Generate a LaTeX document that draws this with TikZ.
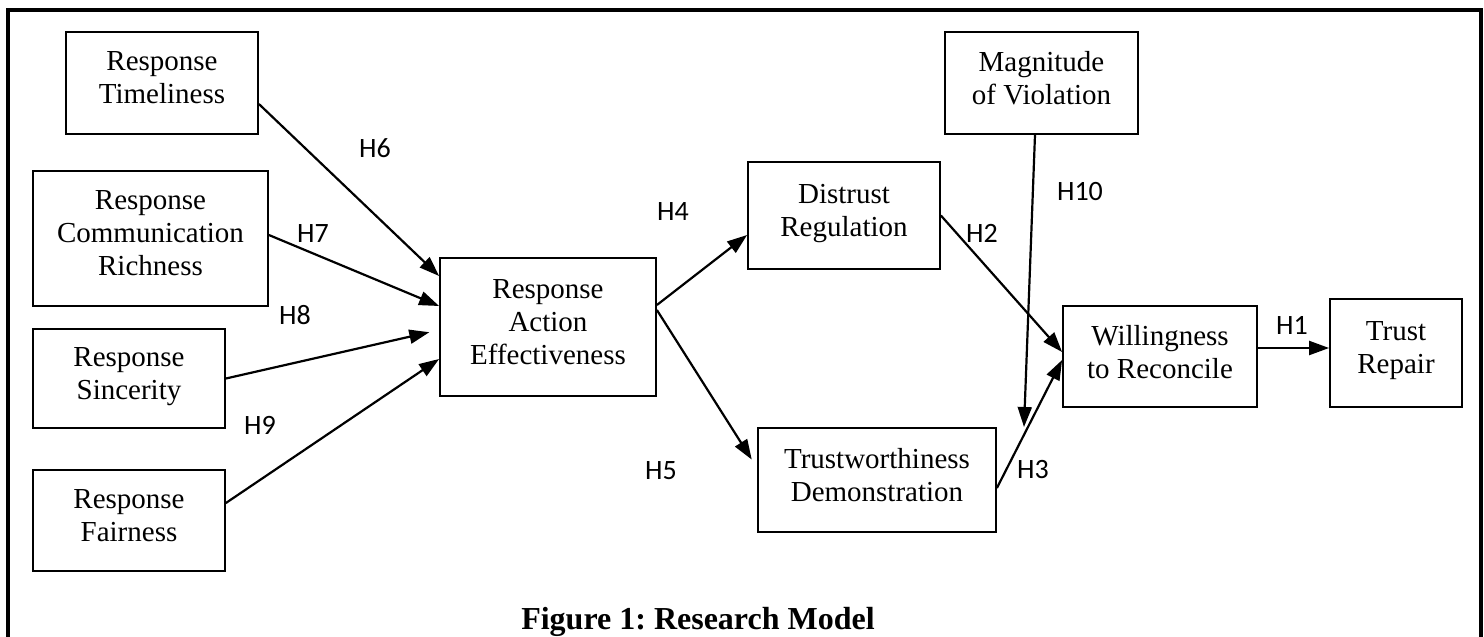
\documentclass[tikz,border=0pt]{standalone}
\usepackage{fontspec}
\setmainfont{Liberation Serif}
\newfontfamily\hypfont{Carlito}
\usetikzlibrary{arrows.meta}
\frenchspacing

\begin{document}
\begin{tikzpicture}[x=0.5pt, y=-0.5pt,
  construct/.style={draw, line width=0.9pt, align=center, inner sep=0pt,
    font=\fontsize{14.5}{16.5}\selectfont, text depth=5pt},
  link/.style={-{Triangle[length=10pt,width=7pt]}, line width=1.1pt},
  hyp/.style={font=\hypfont\fontsize{14}{16}\selectfont, inner sep=0pt}]
\useasboundingbox (0,0) rectangle (1484,637);
% frame, bottom edge runs off the page
\draw[line width=1.8pt] (8,637) -- (8,10) -- (1481,10) -- (1481,637);

% antecedents
\node[construct, minimum width=96pt, minimum height=51pt] (timely) at (162,83) {Response\\Timeliness};
\node[construct, minimum width=117.5pt, minimum height=67.5pt] (rich) at (150.5,238.5) {Response\\Communication\\Richness};
\node[construct, minimum width=96pt, minimum height=49.5pt] (sincere) at (129,378.5) {Response\\Sincerity};
\node[construct, minimum width=96pt, minimum height=50.5pt] (fair) at (129,520.5) {Response\\Fairness};

% mediators and outcomes
\node[construct, minimum width=108pt, minimum height=69pt] (action) at (548,327) {Response\\Action\\Effectiveness};
\node[construct, minimum width=96pt, minimum height=53.5pt] (distrust) at (844,215.5) {Distrust\\Regulation};
\node[construct, minimum width=119pt, minimum height=52pt] (worthy) at (877,480) {Trustworthiness\\Demonstration};
\node[construct, minimum width=96.5pt, minimum height=51pt] (magnitude) at (1041.5,83) {Magnitude\\of Violation};
\node[construct, minimum width=97pt, minimum height=50.5pt] (reconcile) at (1160,356.5) {Willingness\\to Reconcile};
\node[construct, minimum width=66pt, minimum height=54pt] (repair) at (1396,353) {Trust\\Repair};

\coordinate (modtip) at (1024,427);

\draw[link] ([yshift=-10.5pt]timely.east) -- ([yshift=25.5pt]action.west);
\draw[link] ([yshift=1.75pt]rich.east) -- ([yshift=10.5pt]action.west);
\draw[link, shorten >=5pt] (sincere.east) -- ([yshift=-1.5pt]action.west);
\draw[link] ([yshift=8.75pt]fair.east) -- ([yshift=-16pt]action.west);
\draw[link] ([yshift=11pt]action.east) -- ([yshift=-9.75pt]distrust.west);
\draw[link, shorten >=5pt] ([yshift=8.5pt]action.east) -- ([yshift=6pt]worthy.west);
\draw[link] (distrust.east) -- ([yshift=2.25pt]reconcile.west);
\draw[link] ([yshift=-4pt]worthy.east) -- ([yshift=-1.75pt]reconcile.west);
\draw[link] ([xshift=-3.25pt]magnitude.south) -- (modtip);
\draw[link] ([yshift=4.25pt]reconcile.east) -- ([yshift=2.5pt]repair.west);

% hypothesis labels
\node[hyp] (h1) at (1292,325) {H1};
\node[hyp] (h2) at (982,233) {H2};
\node[hyp] (h3) at (1033,470) {H3};
\node[hyp] (h4) at (673,212) {H4};
\node[hyp] (h5) at (661,471) {H5};
\node[hyp] (h6) at (375,148) {H6};
\node[hyp] (h7) at (313,234) {H7};
\node[hyp] (h8) at (295,315) {H8};
\node[hyp] (h9) at (260,425) {H9};
\node[hyp] (h10) at (1080,192) {H10};

\node[font=\bfseries\fontsize{16}{19}\selectfont] (caption) at (698,622) {Figure 1: Research Model};
\end{tikzpicture}
\end{document}
